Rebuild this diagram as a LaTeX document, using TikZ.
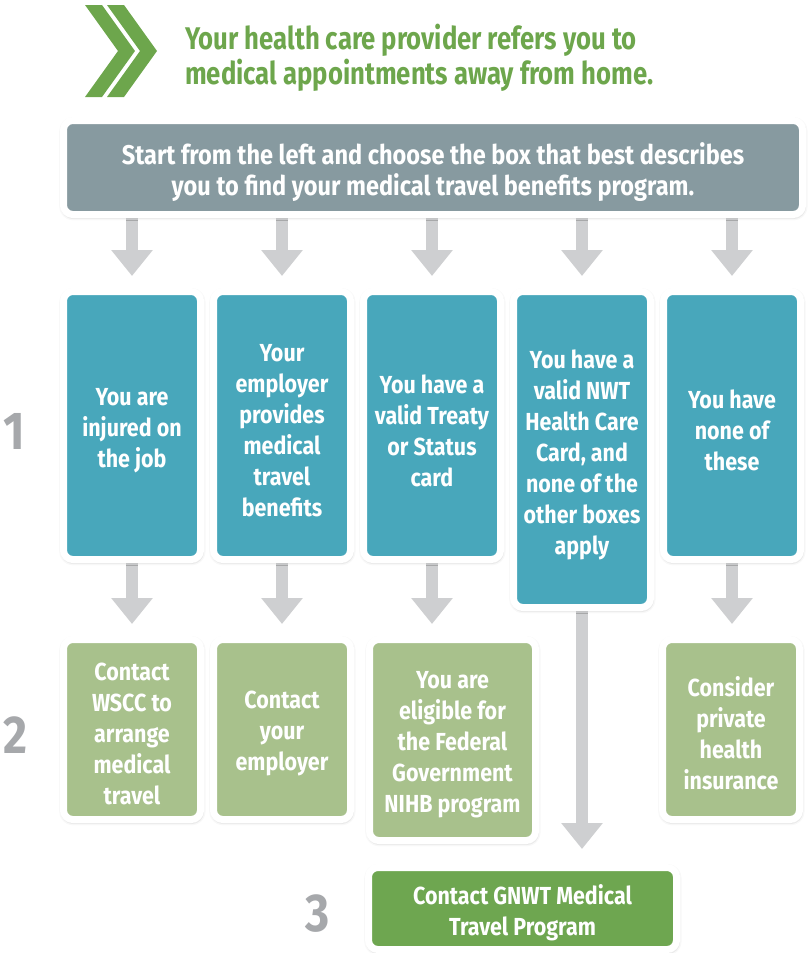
\documentclass[tikz,border=0pt]{standalone}
\usepackage{fontspec}
\setmainfont{Fira Sans}[FakeStretch=0.87]
\newfontfamily\headfont{Fira Sans}[FakeStretch=0.82]
\usetikzlibrary{arrows.meta,shadows.blur,calc}
\definecolor{tealbox}{HTML}{48A7BB}
\definecolor{topgray}{HTML}{879AA0}
\definecolor{lightgreen}{HTML}{A8C18C}
\definecolor{darkgreen}{HTML}{6EA650}
\definecolor{headgreen}{HTML}{6DA64C}
\definecolor{arrowgray}{HTML}{CECFD1}
\definecolor{numgray}{HTML}{A6A8AB}
\pgfdeclarelayer{bg}
\pgfsetlayers{bg,main}
\begin{document}
\begin{tikzpicture}[x=0.75pt,y=-0.75pt,
  box/.style={draw=white, line width=5.25pt, rounded corners=7pt, inner sep=0pt,
    blur shadow={shadow xshift=0.3pt, shadow yshift=-0.9pt,
      shadow blur radius=3.5pt, shadow opacity=45}},
  boxtext/.style={align=center, text=white, inner sep=0pt,
    font=\bfseries\fontsize{18.5}{23.25}\selectfont},
  size/.style 2 args={minimum width=#1*0.75pt, minimum height=#2*0.75pt},
  arr/.style={draw=arrowgray, line width=9pt, -{Triangle[width=30pt,length=19.5pt]}},
  num/.style={text=numgray, font=\bfseries\fontsize{40}{40}\selectfont, inner sep=0pt},
]
\useasboundingbox (0,0) rectangle (807,953);

% double chevron
\fill[headgreen] (85,5) -- (102,5) -- (135,51) -- (102,97) -- (85,97) -- (118,51) -- cycle;
\fill[headgreen] (107,5) -- (124,5) -- (157,51) -- (124,97) -- (107,97) -- (140,51) -- cycle;

% heading
\node[anchor=west, align=left, inner sep=0pt, text=headgreen,
      font=\headfont\bfseries\fontsize{23.5}{26.25}\selectfont] (head) at (185,58)
  {Your health care provider refers you to\\medical appointments away from home.};

% boxes
\node[box, fill=topgray, size={739}{94}] (top) at (433,167.5) {};
\node[box, fill=tealbox, size={137}{268}] (t1) at (132,425.5) {};
\node[box, fill=tealbox, size={137}{268}] (t2) at (282,425.5) {};
\node[box, fill=tealbox, size={137}{268}] (t3) at (432,425.5) {};
\node[box, fill=tealbox, size={137}{316}] (t4) at (582,449.5) {};
\node[box, fill=tealbox, size={137}{268}] (t5) at (732,425.5) {};
\node[box, fill=lightgreen, size={137}{180}] (g1) at (132,729.5) {};
\node[box, fill=lightgreen, size={137}{180}] (g2) at (282,729.5) {};
\node[box, fill=lightgreen, size={166}{201}] (g3) at (452.5,740) {};
\node[box, fill=lightgreen, size={137}{180}] (g5) at (731,729.5) {};
\node[box, fill=darkgreen, size={308}{82}] (final) at (522.5,908.5) {};

% box texts, set slightly below each box centre
\node[boxtext, font=\bfseries\fontsize{20.3}{23.25}\selectfont] (topx) at ([yshift=-3.75pt]top.center)
  {Start from the left and choose the box that best describes\\you to find your medical travel benefits program.};
\node[boxtext] (t1x) at ([yshift=-3.75pt]t1.center) {You are\\injured on\\the job};
\node[boxtext] (t2x) at ([yshift=-3.75pt]t2.center) {Your\\employer\\provides\\medical\\travel\\benefits};
\node[boxtext] (t3x) at ([yshift=-3.75pt]t3.center) {You have a\\valid Treaty\\or Status\\card};
\node[boxtext] (t4x) at ([yshift=-3.75pt]t4.center) {You have a\\valid NWT\\Health Care\\Card, and\\none of the\\other boxes\\apply};
\node[boxtext] (t5x) at ([yshift=-3.75pt]t5.center) {You have\\none of\\these};
\node[boxtext] (g1x) at ([yshift=-3pt]g1.center) {Contact\\WSCC to\\arrange\\medical\\travel};
\node[boxtext] (g2x) at ([yshift=-3pt]g2.center) {Contact\\your\\employer};
\node[boxtext] (g3x) at ([yshift=-3.75pt]g3.center) {You are\\eligible for\\the Federal\\Government\\NIHB program};
\node[boxtext] (g5x) at ([yshift=-3pt]g5.center) {Consider\\private\\health\\insurance};
\node[boxtext] (finalx) at ([yshift=-3pt]final.center) {Contact GNWT Medical\\Travel Program};

% step numbers
\node[num] (n1) at (14,431) {1};
\node[num] (n2) at (15,735) {2};
\node[num] (n3) at (318,914) {3};

% connectors
\begin{pgfonlayer}{bg}
  \foreach \t in {t1,t2,t3,t4,t5}
    \draw[arr] (top.south -| \t) -- ($(\t.north)+(0,-12)$);
  \draw[arr] (t1.south) -- ($(t1.south |- g1.north)+(0,-12)$);
  \draw[arr] (t2.south) -- ($(t2.south |- g2.north)+(0,-12)$);
  \draw[arr] (t3.south) -- ($(t3.south |- g3.north)+(0,-12)$);
  \draw[arr] (t5.south) -- ($(t5.south |- g5.north)+(0,-12)$);
  \draw[arr] (t4.south) -- ($(t4.south |- final.north)+(0,-15)$);
\end{pgfonlayer}
\end{tikzpicture}
\end{document}
